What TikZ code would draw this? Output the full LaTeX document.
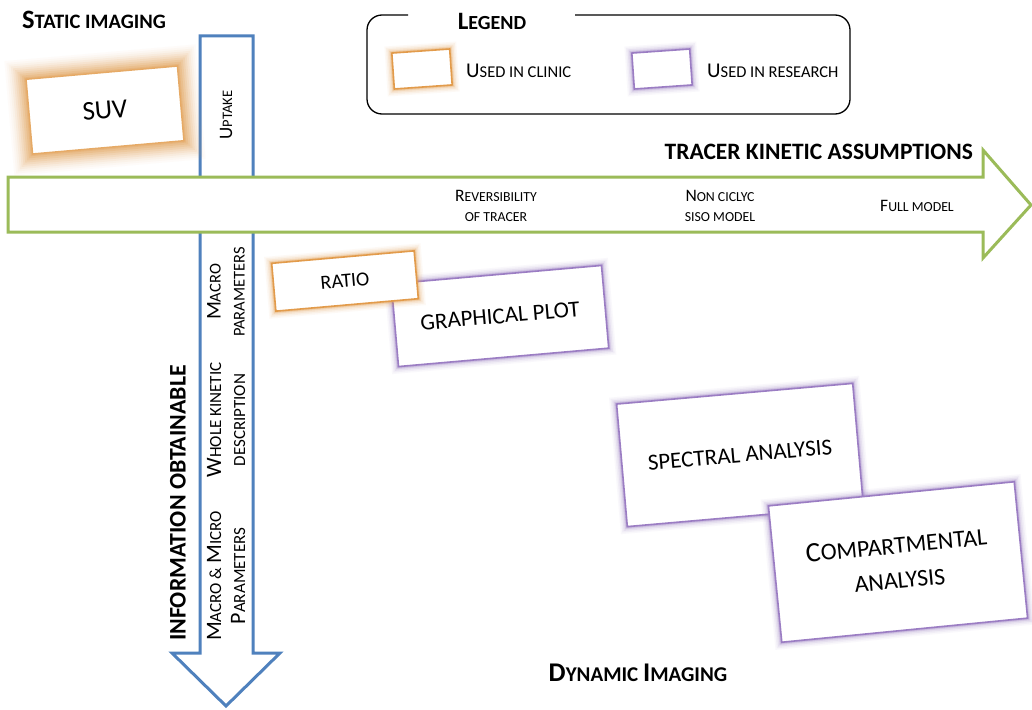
\documentclass[tikz,border=0pt]{standalone}
\usepackage{fontspec}
\setmainfont{Carlito}
\definecolor{bluA}{RGB}{79,129,189}
\definecolor{grnA}{RGB}{155,187,89}
\definecolor{oraA}{RGB}{226,155,75}
\definecolor{purA}{RGB}{155,125,195}
\newcommand\fs[1]{\fontsize{#1}{\fpeval{1.25*#1}}\selectfont}
\newcommand\fsb[2]{\fontsize{#1}{#2}\selectfont}
\tikzset{
  glowbig/.style={fill=white, draw=#1!85, line width=1.5,
    preaction={draw=#1, line width=40, draw opacity=0.03},
    preaction={draw=#1, line width=36, draw opacity=0.04},
    preaction={draw=#1, line width=32, draw opacity=0.05},
    preaction={draw=#1, line width=28, draw opacity=0.07},
    preaction={draw=#1, line width=24, draw opacity=0.09},
    preaction={draw=#1, line width=20, draw opacity=0.11},
    preaction={draw=#1, line width=16, draw opacity=0.13},
    preaction={draw=#1, line width=12, draw opacity=0.16},
    preaction={draw=#1, line width=8, draw opacity=0.2},
    preaction={draw=#1, line width=4, draw opacity=0.25}},
  glowsmall/.style={fill=white, draw=#1, line width=1.6,
    preaction={draw=#1, line width=14, draw opacity=0.05},
    preaction={draw=#1, line width=11, draw opacity=0.08},
    preaction={draw=#1, line width=8, draw opacity=0.12},
    preaction={draw=#1, line width=5, draw opacity=0.2},
    preaction={draw=#1, line width=3, draw opacity=0.3}},
  box/.style={rectangle, inner sep=0, align=center, rotate=5},
  lbl/.style={inner sep=0, align=center},
}
\begin{document}
\begin{tikzpicture}[x=1pt,y=-1pt]
\useasboundingbox (0,0) rectangle (1032,709);
\fill[white] (0,0) rectangle (1032,709);
% blue vertical arrow
\draw[bluA, line width=3, fill=white, line join=miter]
  (200,36) -- (253,36) -- (253,653) -- (280,653) -- (226,706) -- (172,653) -- (200,653) -- cycle;
% green horizontal arrow
\draw[grnA, line width=3, fill=white, line join=miter]
  (8,177) -- (983,177) -- (983,150) -- (1031,205) -- (983,258) -- (983,232) -- (8,232) -- cycle;

% legend
\draw[line width=1.3, rounded corners=15]
  (575,15) -- (850,15) -- (850,114) -- (367,114) -- (367,15) -- (408,15);
\node[lbl] (legt) at (492,21) {\bfseries\fs{25}L\fs{20}EGEND};
\node[box, rotate=-1, glowsmall=oraA, minimum width=58, minimum height=36] (lgo) at (422,69) {};
\node[box, rotate=-1, glowsmall=purA, minimum width=58, minimum height=36] (lgp) at (662,69) {};
\node[lbl, anchor=west] (luc) at (466,71) {\fs{21}U\fs{16.5}SED IN CLINIC};
\node[lbl, anchor=west] (lur) at (707,71) {\fs{21}U\fs{16.5}SED IN RESEARCH};

% titles
\node[lbl, anchor=west] (stat) at (22,20) {\bfseries\fs{26.5}S\fs{20.5}TATIC IMAGING};
\node[lbl, anchor=east] (tka) at (973,152) {\bfseries\fs{23.5}TRACER KINETIC ASSUMPTIONS};
\node[lbl] (dyn) at (638,673) {\bfseries\fs{27}D\fs{21}YNAMIC \fs{27}I\fs{21}MAGING};
\node[lbl, rotate=90] (info) at (178,503) {\bfseries\fs{23.8}INFORMATION OBTAINABLE};

% green arrow labels
\node[lbl, font=\fsb{17.5}{20}] (rev) at (496,206) {\fs{17.5}R\fs{13.8}EVERSIBILITY\\\fs{13.8}OF TRACER};
\node[lbl, font=\fsb{17.5}{20}] (ncs) at (720,206) {\fs{17.5}N\fs{13.8}ON CICLYC\\\fs{13.8}SISO MODEL};
\node[lbl] (fm) at (917,206) {\fs{17.5}F\fs{13.8}ULL MODEL};

% blue arrow labels
\node[lbl, rotate=90] (upt) at (226,115) {\fs{19}U\fs{14.5}PTAKE};
\node[lbl, rotate=90, font=\fsb{21}{24}] (mpar) at (226,292) {\fs{21}M\fs{16.5}ACRO\\\fs{16.5}PARAMETERS};
\node[lbl, rotate=90, font=\fsb{22}{24}] (wkd) at (226,420) {\fs{22}W\fs{17}HOLE KINETIC\\\fs{17}DESCRIPTION};
\node[lbl, rotate=90, font=\fsb{22}{24}] (mmp) at (226,576) {\fs{22}M\fs{17}ACRO \& \fs{22}M\fs{17}ICRO\\\fs{22}P\fs{17}ARAMETERS};

% method boxes
\node[box, glowbig=oraA, minimum width=152, minimum height=75] (suv) at (105,110) {\fs{27}SUV};
\node[box, glowsmall=purA, minimum width=211, minimum height=83] (gp) at (500,316) {\fs{23}GRAPHICAL PLOT};
\node[box, glowsmall=oraA, minimum width=143, minimum height=48] (ratio) at (345,281) {\fs{20}RATIO};
\node[box, glowsmall=purA, minimum width=237, minimum height=123] (spec) at (740,455) {\fs{23}SPECTRAL ANALYSIS};
\node[box, rotate=0.6, glowsmall=purA, minimum width=247, minimum height=137, font=\fsb{28}{35}] (comp) at (898,562) {\fs{28}C\fs{24}OMPARTMENTAL\\\fs{24}ANALYSIS};
\end{tikzpicture}
\end{document}
